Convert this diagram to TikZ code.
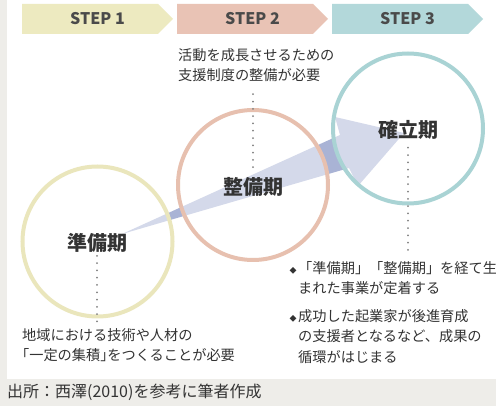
\documentclass[tikz,border=0pt]{standalone}
\usepackage{fontspec}
\setmainfont{Noto Sans CJK JP}
\newcommand{\hw}[1]{{\addfontfeature{RawFeature=+halt}#1}}
\definecolor{bggray}{HTML}{EEEDE9}
\definecolor{stepone}{HTML}{EDEAC0}
\definecolor{steptwo}{HTML}{E9C3B5}
\definecolor{stepthree}{HTML}{B3D8DA}
\definecolor{ringone}{HTML}{EAE6BC}
\definecolor{ringtwo}{HTML}{E7C0AF}
\definecolor{ringthree}{HTML}{A9D3D4}
\definecolor{arrowc}{HTML}{A9B3D5}
\definecolor{txtc}{HTML}{333333}
\definecolor{steptxt}{HTML}{4A4A4A}
\definecolor{dotc}{HTML}{808080}
\begin{document}
\begin{tikzpicture}[x=1pt,y=-1pt,
  steplabel/.style={inner sep=0pt, text=steptxt, font=\bfseries\fontsize{16}{16}\selectfont},
  ring/.style={circle, inner sep=0pt, minimum size=150pt, line width=4pt, fill=white, fill opacity=0.5, draw opacity=1},
  phase/.style={inner sep=0pt, text=txtc, font=\bfseries\fontsize{20}{20}\selectfont},
  note/.style={inner sep=0pt, align=left, text=txtc, font=\fontsize{14.2}{20.5}\selectfont},
  dotline/.style={dotc, line width=2pt, line cap=round, dash pattern=on 0pt off 7.3pt}]
\fill[bggray] (0,0) rectangle (496,406);
\fill[white] (7,0) rectangle (496,379);
\useasboundingbox (0,0) rectangle (496,406);
% step chevrons
\fill[stepone] (22,4) -- (158,4) -- (173,19) -- (158,34) -- (22,34) -- cycle;
\fill[steptwo] (177,4) -- (313,4) -- (328,19) -- (313,34) -- (177,34) -- cycle;
\fill[stepthree] (332,4) -- (468,4) -- (483,19) -- (468,34) -- (332,34) -- cycle;
\node[steplabel] (s1) at (97.5,19) {STEP 1};
\node[steplabel] (s2) at (252.5,19) {STEP 2};
\node[steplabel] (s3) at (407.5,19) {STEP 3};
% growth arrow
\fill[arrowc] (122,234) -- (340,135) -- (335,117) -- (404,133) -- (358,186) -- (349,168) -- cycle;
% circles
\node[ring, draw=ringone] (c1) at (97.5,241.5) {};
\node[ring, draw=ringtwo] (c2) at (253,185) {};
\node[ring, draw=ringthree] (c3) at (408,128.5) {};
% phase labels
\node[phase] (p1) at (97,243) {準備期};
\node[phase] (p2) at (253,187) {整備期};
\node[phase] (p3) at (408,130) {確立期};
% notes
\node[note, anchor=north west] (n2) at (178,48) {活動を成長させるための\\支援制度の整備が必要};
\node[note, anchor=north west] (n1) at (22,328) {地域における技術や人材の\\\hw{「}一定の集積\hw{」}をつくることが必要};
\node[note, anchor=north west] (n3a) at (298,261) {\llap{{\fontsize{7}{7}\selectfont◆}\hspace{1.5pt}}「準備期」「整備期」を経て生\\まれた事業が定着する};
\node[note, anchor=north west] (n3b) at (298,309) {\llap{{\fontsize{7}{7}\selectfont◆}\hspace{1.5pt}}成功した起業家が後進育成\\の支援者となるなど、成果の\\循環がはじまる};
% dotted leaders
\draw[dotline, shorten <=10pt, shorten >=7pt] (p2.north) -- (p2.north |- n2.south);
\draw[dotline, shorten <=3pt, shorten >=6pt] (p1.south) -- (p1.south |- n1.north);
\draw[dotline, shorten <=8pt, shorten >=8pt] (p3.south) -- (p3.south |- n3a.north);
% source
\node[anchor=west, inner sep=0pt, text=txtc, font=\fontsize{16}{16}\selectfont] (src) at (7,392.5) {出所：西澤(2010)を参考に筆者作成};
\end{tikzpicture}
\end{document}
